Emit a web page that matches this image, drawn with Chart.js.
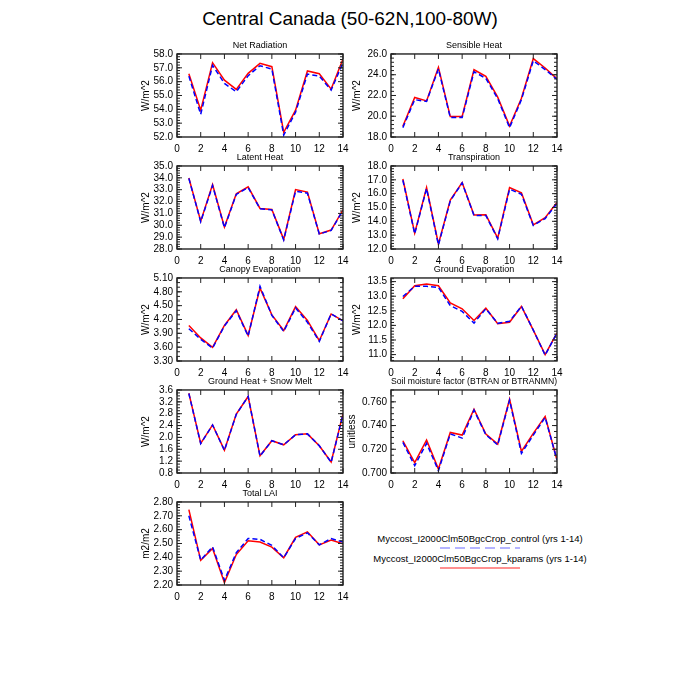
<!DOCTYPE html>
<html>
<head>
<meta charset="utf-8">
<script src="https://cdn.jsdelivr.net/npm/chart.js"></script>
<style>
  body { margin: 0; background: #fff; font-family: "Liberation Sans", Arial, sans-serif; }
  #page { position: relative; width: 700px; height: 700px; overflow: hidden; }
  #page canvas { position: absolute; }
  .maintitle { position: absolute; left: 0; top: 8px; width: 700px; text-align: center; font-size: 19px; color: #000; }
  .legtext { position: absolute; left: 330px; width: 300px; text-align: center; font-size: 9.5px; color: #000; }
  .legline { position: absolute; left: 440px; width: 80px; height: 2px; }
</style>
</head>
<body>
<div id="page">
  <div class="maintitle">Central Canada (50-62N,100-80W)</div>
  <div class="legtext" style="top:533px">Myccost_I2000Clm50BgcCrop_control (yrs 1-14)</div>
  <div class="legline" style="top:547px;background:repeating-linear-gradient(to right,#b4b4ff 0 10px,transparent 10px 15px)"></div>
  <div class="legtext" style="top:553px">Myccost_I2000Clm50BgcCrop_kparams (yrs 1-14)</div>
  <div class="legline" style="top:567px;background:#ff9090"></div>
</div>
<script>
// model years on the x axis
var years = [1, 2, 3, 4, 5, 6, 7, 8, 9, 10, 11, 12, 13, 14];

// control run (blue dashed) / kparams run (red solid)
var netRadCtl = [56.40, 53.64, 57.18, 55.87, 55.27, 56.43, 57.15, 56.91, 52.14, 53.80, 56.55, 56.40, 55.39, 57.37];
var netRadKp  = [56.57, 53.94, 57.37, 56.11, 55.44, 56.60, 57.32, 57.08, 52.34, 53.94, 56.77, 56.57, 55.46, 57.64];

var sensCtl = [18.90, 21.60, 21.42, 24.55, 19.87, 19.87, 24.29, 23.65, 21.70, 18.90, 21.60, 25.35, 24.50, 23.55];
var sensKp  = [19.03, 21.81, 21.48, 24.71, 19.97, 19.97, 24.48, 23.84, 21.84, 19.06, 21.74, 25.55, 24.65, 23.60];

var latentCtl = [33.95, 30.30, 33.35, 29.80, 32.60, 33.18, 31.40, 31.30, 28.76, 32.87, 32.70, 29.26, 29.57, 31.26];
var latentKp  = [33.98, 30.35, 33.43, 29.85, 32.65, 33.24, 31.42, 31.33, 28.81, 33.01, 32.80, 29.29, 29.60, 31.30];

var transpCtl = [16.97, 13.10, 16.37, 12.29, 15.48, 16.78, 14.42, 14.42, 12.74, 16.32, 15.96, 13.70, 14.20, 15.29];
var transpKp  = [17.06, 13.15, 16.44, 12.36, 15.53, 16.80, 14.45, 14.47, 12.79, 16.44, 16.06, 13.75, 14.26, 15.36];

var canopyCtl = [4.00, 3.77, 3.58, 4.06, 4.39, 3.84, 4.92, 4.29, 3.94, 4.45, 4.14, 3.725, 4.32, 4.17];
var canopyKp  = [4.07, 3.80, 3.595, 4.07, 4.41, 3.855, 4.88, 4.30, 3.96, 4.48, 4.18, 3.74, 4.32, 4.17];

var gevapCtl = [12.99, 13.34, 13.34, 13.30, 12.68, 12.48, 12.08, 12.57, 12.07, 12.14, 12.66, 11.84, 10.98, 11.74];
var gevapKp  = [12.91, 13.36, 13.42, 13.36, 12.77, 12.57, 12.17, 12.59, 12.06, 12.11, 12.65, 11.84, 11.00, 11.74];

var gheatCtl = [3.48, 1.79, 2.42, 1.56, 2.78, 3.38, 1.37, 1.89, 1.75, 2.09, 2.12, 1.72, 1.16, 2.78];
var gheatKp  = [3.49, 1.80, 2.42, 1.57, 2.79, 3.38, 1.38, 1.89, 1.75, 2.09, 2.12, 1.72, 1.17, 2.79];

var btranCtl = [0.7258, 0.7062, 0.7250, 0.7020, 0.7330, 0.7294, 0.7530, 0.7322, 0.7236, 0.7614, 0.7165, 0.7320, 0.7468, 0.7110];
var btranKp  = [0.7272, 0.7087, 0.7278, 0.7034, 0.7342, 0.7320, 0.7538, 0.7328, 0.7244, 0.7622, 0.7182, 0.7334, 0.7477, 0.7110];

var laiCtl = [2.700, 2.380, 2.476, 2.234, 2.433, 2.536, 2.530, 2.486, 2.397, 2.536, 2.577, 2.490, 2.536, 2.510];
var laiKp  = [2.745, 2.378, 2.464, 2.217, 2.420, 2.520, 2.510, 2.474, 2.397, 2.545, 2.584, 2.490, 2.525, 2.498];

// panel layout: plot area corners
var colLeft = [177, 391];
var rowTop = [54, 166, 278, 390, 502];
var plotW = 166, plotH = 83;
var fontFam = '"Liberation Sans", Arial, sans-serif';

var panels = [
  {title: 'Net Radiation', unit: 'W/m^2', ctl: netRadCtl, kp: netRadKp, min: 52, max: 58, step: 1, dec: 1, minor: 5, col: 0, row: 0, ty: 31},
  {title: 'Sensible Heat', unit: 'W/m^2', ctl: sensCtl, kp: sensKp, min: 18, max: 26, step: 2, dec: 1, minor: 5, col: 1, row: 0, ty: 34},
  {title: 'Latent Heat', unit: 'W/m^2', ctl: latentCtl, kp: latentKp, min: 28, max: 35, step: 1, dec: 1, minor: 5, col: 0, row: 1, ty: 31},
  {title: 'Transpiration', unit: 'W/m^2', ctl: transpCtl, kp: transpKp, min: 12, max: 18, step: 1, dec: 1, minor: 5, col: 1, row: 1, ty: 34},
  {title: 'Canopy Evaporation', unit: 'W/m^2', ctl: canopyCtl, kp: canopyKp, min: 3.3, max: 5.1, step: 0.3, dec: 2, minor: 3, col: 0, row: 2, ty: 31},
  {title: 'Ground Evaporation', unit: 'W/m^2', ctl: gevapCtl, kp: gevapKp, min: 10.78, max: 13.625, step: 0.5, dec: 1, minor: 5, col: 1, row: 2, ty: 34},
  {title: 'Ground Heat + Snow Melt', unit: 'W/m^2', ctl: gheatCtl, kp: gheatKp, min: 0.8, max: 3.6, step: 0.4, dec: 1, minor: 4, col: 0, row: 3, ty: 31},
  {title: 'Soil moisture factor (BTRAN or BTRANMN)', unit: 'unitless', ctl: btranCtl, kp: btranKp, min: 0.7, max: 0.77, step: 0.02, dec: 3, minor: 4, col: 1, row: 3, ty: 39},
  {title: 'Total LAI', unit: 'm2/m2', ctl: laiCtl, kp: laiKp, min: 2.2, max: 2.8, step: 0.1, dec: 2, minor: 5, col: 0, row: 4, ty: 31}
];

// box round the plot + NCL style inward tick marks
var frameTicks = {
  id: 'frameTicks',
  afterDraw: function(chart) {
    var a = chart.chartArea, ctx = chart.ctx;
    var xs = chart.scales.x, ys = chart.scales.y;
    var minor = chart.options.plugins.frameTicks.minor;
    ctx.save();
    ctx.strokeStyle = '#222';
    ctx.lineWidth = 1.4;
    ctx.strokeRect(a.left, a.top, a.right - a.left, a.bottom - a.top);
    ctx.lineWidth = 1;
    ctx.beginPath();
    xs.ticks.forEach(function(t) {
      var px = xs.getPixelForValue(t.value);
      ctx.moveTo(px, a.bottom); ctx.lineTo(px, a.bottom - 5);
      ctx.moveTo(px, a.top); ctx.lineTo(px, a.top + 5);
    });
    ys.ticks.forEach(function(t) {
      var py = ys.getPixelForValue(t.value);
      ctx.moveTo(a.left, py); ctx.lineTo(a.left + 5, py);
      ctx.moveTo(a.right, py); ctx.lineTo(a.right - 5, py);
    });
    var step = ys.options.ticks.stepSize / minor;
    for (var v = Math.ceil(ys.min / step - 1e-6) * step; v <= ys.max + 1e-9; v += step) {
      var py = ys.getPixelForValue(v);
      ctx.moveTo(a.left, py); ctx.lineTo(a.left + 3, py);
      ctx.moveTo(a.right, py); ctx.lineTo(a.right - 3, py);
    }
    ctx.stroke();
    ctx.restore();
  }
};

var page = document.getElementById('page');
var yAxisW = 50, xAxisH = 22, titleH = 14, rightPad = 12;

panels.forEach(function(p) {
  var cv = document.createElement('canvas');
  cv.width = yAxisW + plotW + rightPad;
  cv.height = titleH + plotH + xAxisH;
  cv.style.left = (colLeft[p.col] - yAxisW) + 'px';
  cv.style.top = (rowTop[p.row] - titleH) + 'px';
  page.appendChild(cv);

  new Chart(cv.getContext('2d'), {
    type: 'line',
    data: {
      datasets: [{
        label: 'control',
        data: years.map(function(y, i) { return {x: y, y: p.ctl[i]}; }),
        borderColor: '#0000ff',
        borderDash: [5, 3],
        borderWidth: 1.5
      }, {
        label: 'kparams',
        data: years.map(function(y, i) { return {x: y, y: p.kp[i]}; }),
        borderColor: '#ff0000',
        borderWidth: 1.5
      }]
    },
    options: {
      responsive: false,
      animation: false,
      devicePixelRatio: 1,
      layout: { padding: { left: 0, right: rightPad, top: 0, bottom: 0 } },
      elements: { point: { radius: 0 }, line: { tension: 0 } },
      plugins: {
        legend: { display: false },
        tooltip: { enabled: false },
        title: {
          display: true, fullSize: false, text: p.title, color: '#000',
          font: { family: fontFam, size: 9, weight: 'normal', lineHeight: 1.33 },
          padding: { top: 0, bottom: 2 }
        },
        frameTicks: { minor: p.minor }
      },
      scales: {
        x: {
          type: 'linear', min: 0, max: 14,
          grid: { display: false, drawTicks: false },
          border: { display: false },
          ticks: { stepSize: 2, autoSkip: false, padding: 6, color: '#000', maxRotation: 0, font: { family: fontFam, size: 10 } },
          afterFit: function(s) { s.height = xAxisH; s.paddingLeft = 0; s.paddingRight = 0; }
        },
        y: {
          min: p.min, max: p.max,
          grid: { display: false, drawTicks: false },
          border: { display: false },
          title: {
            display: true, text: p.unit, color: '#000',
            font: { family: fontFam, size: 10 },
            padding: { top: yAxisW - p.ty - 6, bottom: 0 }
          },
          ticks: {
            stepSize: p.step, includeBounds: false, autoSkip: false, padding: 4, color: '#000',
            font: { family: fontFam, size: 10 },
            callback: function(v) { return Number(v).toFixed(p.dec); }
          },
          afterFit: function(s) { s.width = yAxisW; s.paddingTop = 0; s.paddingBottom = 0; }
        }
      }
    },
    plugins: [frameTicks]
  });
});
</script>
</body>
</html>
